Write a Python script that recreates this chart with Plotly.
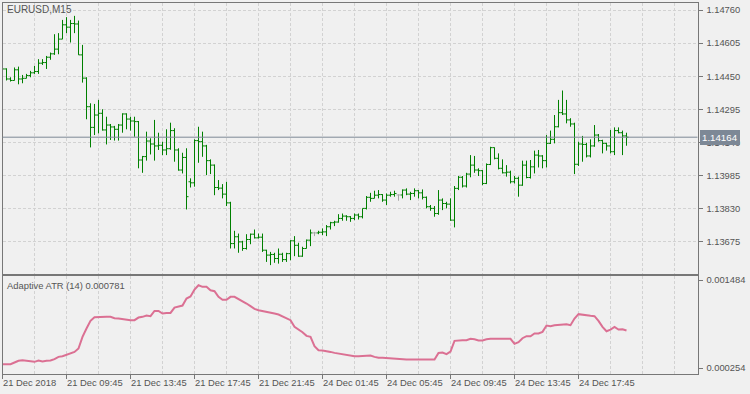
import numpy as np
import plotly.graph_objects as go

# ---------------- data (EURUSD M15, bars from 21 Dec 2018 05:45) ----------------
opens = [1.14480, 1.14484, 1.14437, 1.14430, 1.14480, 1.14437, 1.14440, 1.14453, 1.14466, 1.14472,
         1.14511, 1.14514, 1.14539, 1.14555, 1.14577, 1.14624, 1.14691, 1.14680, 1.14697, 1.14695,
         1.14550, 1.14441, 1.14307, 1.14210, 1.14268, 1.14276, 1.14198, 1.14221, 1.14212, 1.14201,
         1.14221, 1.14273, 1.14249, 1.14240, 1.14237, 1.14057, 1.14073, 1.14146, 1.14132, 1.14123,
         1.14126, 1.14104, 1.14110, 1.14195, 1.14104, 1.14010, 1.14069, 1.13955, 1.13950, 1.14148,
         1.14143, 1.14123, 1.14054, 1.14033, 1.13928, 1.13925, 1.13897, 1.13856, 1.13665, 1.13697,
         1.13673, 1.13642, 1.13684, 1.13709, 1.13692, 1.13695, 1.13634, 1.13611, 1.13614, 1.13595,
         1.13615, 1.13590, 1.13618, 1.13678, 1.13657, 1.13606, 1.13642, 1.13681, 1.13715, 1.13715,
         1.13718, 1.13720, 1.13744, 1.13763, 1.13766, 1.13783, 1.13794, 1.13791, 1.13783, 1.13799,
         1.13791, 1.13830, 1.13882, 1.13877, 1.13892, 1.13895, 1.13869, 1.13892, 1.13895, 1.13893,
         1.13893, 1.13916, 1.13897, 1.13900, 1.13913, 1.13903, 1.13882, 1.13838, 1.13830, 1.13806,
         1.13869, 1.13853, 1.13850, 1.13775, 1.13924, 1.13976, 1.13935, 1.13991, 1.14033, 1.14010,
         1.14007, 1.13947, 1.14036, 1.14115, 1.14065, 1.14018, 1.13997, 1.14000, 1.13955, 1.13971,
         1.13939, 1.14033, 1.13975, 1.14025, 1.14080, 1.14076, 1.14054, 1.14135, 1.14154, 1.14213,
         1.14279, 1.14273, 1.14245, 1.14226, 1.14037, 1.14132, 1.14130, 1.14076, 1.14123, 1.14174,
         1.14148, 1.14135, 1.14123, 1.14096, 1.14195, 1.14185, 1.14170]
highs = [1.14495, 1.14487, 1.14445, 1.14491, 1.14495, 1.14456, 1.14461, 1.14475, 1.14498, 1.14530,
         1.14530, 1.14545, 1.14561, 1.14647, 1.14652, 1.14714, 1.14727, 1.14714, 1.14733, 1.14711,
         1.14597, 1.14445, 1.14323, 1.14320, 1.14339, 1.14295, 1.14260, 1.14226, 1.14217, 1.14226,
         1.14276, 1.14276, 1.14260, 1.14260, 1.14240, 1.14076, 1.14190, 1.14159, 1.14245, 1.14185,
         1.14143, 1.14201, 1.14232, 1.14206, 1.14112, 1.14091, 1.14112, 1.13971, 1.14154, 1.14213,
         1.14190, 1.14128, 1.14060, 1.14036, 1.13963, 1.13944, 1.13955, 1.13861, 1.13725, 1.13712,
         1.13678, 1.13709, 1.13712, 1.13731, 1.13712, 1.13712, 1.13636, 1.13626, 1.13622, 1.13642,
         1.13622, 1.13622, 1.13681, 1.13700, 1.13669, 1.13650, 1.13684, 1.13731, 1.13720, 1.13725,
         1.13736, 1.13752, 1.13767, 1.13772, 1.13803, 1.13806, 1.13798, 1.13794, 1.13806, 1.13806,
         1.13830, 1.13888, 1.13903, 1.13913, 1.13916, 1.13897, 1.13900, 1.13908, 1.13913, 1.13896,
         1.13919, 1.13924, 1.13908, 1.13924, 1.13916, 1.13919, 1.13886, 1.13846, 1.13841, 1.13916,
         1.13877, 1.13861, 1.13877, 1.13935, 1.13982, 1.13982, 1.13997, 1.14080, 1.14076, 1.14018,
         1.14010, 1.14041, 1.14119, 1.14116, 1.14088, 1.14060, 1.14033, 1.14007, 1.13982, 1.13979,
         1.14054, 1.14054, 1.14057, 1.14101, 1.14104, 1.14080, 1.14174, 1.14195, 1.14268, 1.14339,
         1.14383, 1.14339, 1.14253, 1.14232, 1.14143, 1.14170, 1.14138, 1.14154, 1.14221, 1.14179,
         1.14152, 1.14138, 1.14198, 1.14210, 1.14210, 1.14195, 1.14185]
lows = [1.14470, 1.14430, 1.14425, 1.14430, 1.14412, 1.14417, 1.14440, 1.14445, 1.14461, 1.14461,
        1.14503, 1.14484, 1.14527, 1.14550, 1.14553, 1.14624, 1.14652, 1.14608, 1.14652, 1.14550,
        1.14420, 1.14248, 1.14116, 1.14174, 1.14182, 1.14195, 1.14130, 1.14151, 1.14148, 1.14148,
        1.14185, 1.14201, 1.14195, 1.14166, 1.14018, 1.13997, 1.14054, 1.14083, 1.14054, 1.14104,
        1.14080, 1.14080, 1.14105, 1.14049, 1.14007, 1.13994, 1.13825, 1.13928, 1.13932, 1.14044,
        1.14072, 1.13986, 1.13991, 1.13892, 1.13916, 1.13877, 1.13841, 1.13642, 1.13642, 1.13622,
        1.13631, 1.13637, 1.13662, 1.13689, 1.13689, 1.13626, 1.13579, 1.13564, 1.13575, 1.13571,
        1.13579, 1.13579, 1.13587, 1.13606, 1.13603, 1.13603, 1.13642, 1.13653, 1.13700, 1.13709,
        1.13705, 1.13700, 1.13731, 1.13747, 1.13763, 1.13772, 1.13772, 1.13767, 1.13775, 1.13778,
        1.13783, 1.13825, 1.13861, 1.13877, 1.13877, 1.13861, 1.13846, 1.13885, 1.13885, 1.13866,
        1.13877, 1.13892, 1.13869, 1.13885, 1.13877, 1.13872, 1.13830, 1.13819, 1.13791, 1.13800,
        1.13822, 1.13830, 1.13772, 1.13741, 1.13916, 1.13928, 1.13928, 1.13976, 1.13997, 1.13982,
        1.13939, 1.13944, 1.14033, 1.14060, 1.14013, 1.13994, 1.13979, 1.13947, 1.13947, 1.13885,
        1.13936, 1.13971, 1.13970, 1.13994, 1.14022, 1.14018, 1.14022, 1.14132, 1.14135, 1.14210,
        1.14268, 1.14229, 1.14213, 1.13991, 1.14029, 1.14049, 1.14069, 1.14069, 1.14119, 1.14143,
        1.14088, 1.14101, 1.14088, 1.14080, 1.14182, 1.14080, 1.14124]
closes = [1.14484, 1.14437, 1.14430, 1.14480, 1.14437, 1.14440, 1.14453, 1.14466, 1.14472, 1.14511,
          1.14514, 1.14539, 1.14555, 1.14577, 1.14624, 1.14691, 1.14680, 1.14697, 1.14695, 1.14550,
          1.14441, 1.14307, 1.14210, 1.14268, 1.14276, 1.14198, 1.14221, 1.14212, 1.14201, 1.14221,
          1.14273, 1.14249, 1.14240, 1.14237, 1.14057, 1.14073, 1.14146, 1.14132, 1.14123, 1.14126,
          1.14104, 1.14110, 1.14195, 1.14104, 1.14010, 1.14069, 1.13885, 1.13950, 1.14148, 1.14143,
          1.14123, 1.14054, 1.14033, 1.13928, 1.13925, 1.13897, 1.13856, 1.13665, 1.13697, 1.13673,
          1.13642, 1.13684, 1.13709, 1.13692, 1.13695, 1.13634, 1.13611, 1.13614, 1.13595, 1.13615,
          1.13590, 1.13618, 1.13678, 1.13657, 1.13606, 1.13642, 1.13681, 1.13715, 1.13715, 1.13718,
          1.13720, 1.13744, 1.13763, 1.13766, 1.13783, 1.13794, 1.13791, 1.13783, 1.13799, 1.13791,
          1.13830, 1.13882, 1.13877, 1.13892, 1.13895, 1.13869, 1.13892, 1.13895, 1.13900, 1.13893,
          1.13916, 1.13897, 1.13900, 1.13913, 1.13903, 1.13882, 1.13838, 1.13830, 1.13806, 1.13869,
          1.13853, 1.13850, 1.13775, 1.13924, 1.13976, 1.13935, 1.13991, 1.14033, 1.14010, 1.14007,
          1.13947, 1.14036, 1.14115, 1.14065, 1.14018, 1.13997, 1.14000, 1.13955, 1.13971, 1.13939,
          1.14033, 1.13975, 1.14025, 1.14080, 1.14076, 1.14054, 1.14135, 1.14154, 1.14213, 1.14279,
          1.14273, 1.14245, 1.14226, 1.14037, 1.14132, 1.14130, 1.14076, 1.14123, 1.14174, 1.14148,
          1.14135, 1.14123, 1.14096, 1.14195, 1.14185, 1.14170, 1.14164]
atr = [0.000310, 0.000310, 0.000310, 0.000333, 0.000357, 0.000366, 0.000357, 0.000347, 0.000343, 0.000361,
       0.000347, 0.000357, 0.000361, 0.000380, 0.000412, 0.000422, 0.000440, 0.000468, 0.000482, 0.000529,
       0.000692, 0.000809, 0.000916, 0.000967, 0.000972, 0.000972, 0.000972, 0.000972, 0.000953, 0.000948,
       0.000939, 0.000925, 0.000925, 0.000925, 0.000962, 0.000972, 0.000990, 0.000981, 0.001055, 0.001055,
       0.001018, 0.001027, 0.001027, 0.001102, 0.001121, 0.001130, 0.001228, 0.001256, 0.001354, 0.001414,
       0.001391, 0.001391, 0.001344, 0.001330, 0.001251, 0.001209, 0.001209, 0.001251, 0.001251, 0.001223,
       0.001190, 0.001158, 0.001121, 0.001083, 0.001065, 0.001055, 0.001041, 0.001027, 0.001018, 0.001004,
       0.000981, 0.000953, 0.000925, 0.000832, 0.000799, 0.000757, 0.000706, 0.000692, 0.000562, 0.000506,
       0.000501, 0.000496, 0.000482, 0.000468, 0.000459, 0.000450, 0.000436, 0.000426, 0.000422, 0.000422,
       0.000422, 0.000422, 0.000431, 0.000412, 0.000399, 0.000399, 0.000394, 0.000389, 0.000385, 0.000375,
       0.000375, 0.000375, 0.000375, 0.000375, 0.000375, 0.000375, 0.000375, 0.000375, 0.000375, 0.000468,
       0.000473, 0.000450, 0.000487, 0.000636, 0.000645, 0.000645, 0.000645, 0.000664, 0.000659, 0.000641,
       0.000641, 0.000659, 0.000664, 0.000664, 0.000664, 0.000664, 0.000664, 0.000664, 0.000594, 0.000617,
       0.000673, 0.000701, 0.000701, 0.000739, 0.000739, 0.000762, 0.000850, 0.000841, 0.000855, 0.000860,
       0.000869, 0.000869, 0.000855, 0.000948, 0.001009, 0.000999, 0.000990, 0.000986, 0.000981, 0.000916,
       0.000832, 0.000771, 0.000794, 0.000832, 0.000794, 0.000799, 0.000781]

price_ticks = [1.14760, 1.14605, 1.14450, 1.14295, 1.14140, 1.13985, 1.13830, 1.13675]
atr_ticks = [0.001484, 0.000254]
time_tick_bars = [0, 16, 32, 48, 64, 80, 96, 112, 128, 144]
time_tick_labels = ["21 Dec 2018", "21 Dec 09:45", "21 Dec 13:45", "21 Dec 17:45", "21 Dec 21:45",
                    "24 Dec 01:45", "24 Dec 05:45", "24 Dec 09:45", "24 Dec 13:45", "24 Dec 17:45"]
symbol_label = "EURUSD,M15"
indicator_label = "Adaptive ATR (14)"

# ---------------- layout geometry (pixels) ----------------
W, H = 750, 394
PL, PR = 2.5, 697.5          # plot left/right
MT, MB = 2.5, 273.5          # main panel top/bottom
ST, SB = 275.5, 373.5        # sub panel top/bottom


def fx(p):
    return p / W


def fy(p):
    return 1 - p / H


BG = "#f0f0f0"
FRAME = "#777777"
GRID = "#d2d2d2"
TXT = "#555555"
FONT = "Liberation Sans, Arial, sans-serif"
FS = 9.4
BAR_GREEN = "#008000"
DOJI_GRAY = "#a8a8a8"
ATR_COLOR = "#DB7093"
PRICE_LINE = "#7d8896"

bars = np.arange(len(opens))
o = np.array(opens)
h = np.array(highs)
l = np.array(lows)
c = np.array(closes)
doji = o == c
norm = ~doji

fig = go.Figure()
fig.add_trace(go.Ohlc(x=bars[norm], open=o[norm], high=h[norm], low=l[norm], close=c[norm],
                      increasing=dict(line=dict(color=BAR_GREEN, width=1)),
                      decreasing=dict(line=dict(color=BAR_GREEN, width=1)),
                      tickwidth=0.5, xaxis="x", yaxis="y", hoverinfo="skip", showlegend=False))
fig.add_trace(go.Ohlc(x=bars[doji], open=o[doji], high=h[doji], low=l[doji], close=c[doji],
                      increasing=dict(line=dict(color=DOJI_GRAY, width=1)),
                      decreasing=dict(line=dict(color=DOJI_GRAY, width=1)),
                      tickwidth=0.5, xaxis="x", yaxis="y", hoverinfo="skip", showlegend=False))
fig.add_trace(go.Scatter(x=bars, y=atr, mode="lines", line=dict(color=ATR_COLOR, width=2),
                         xaxis="x2", yaxis="y2", hoverinfo="skip", showlegend=False))

xrange = [0, 173.75]
grid_common = dict(showgrid=True, gridcolor=GRID, gridwidth=1, griddash="3px,2px")

fig.update_layout(
    width=W, height=H, margin=dict(l=0, r=0, t=0, b=0),
    paper_bgcolor=BG, plot_bgcolor=BG, showlegend=False,
    font=dict(family=FONT, size=FS, color=TXT),
    xaxis=dict(domain=[fx(PL), fx(PR)], anchor="y", range=xrange, tickmode="linear", tick0=0, dtick=8,
               showticklabels=False, ticks="", zeroline=False, showline=True, mirror=True,
               linecolor=FRAME, linewidth=1, rangeslider=dict(visible=False), fixedrange=True,
               **grid_common),
    xaxis2=dict(domain=[fx(PL), fx(PR)], anchor="y2", range=xrange, matches="x",
                tickmode="array", tickvals=time_tick_bars, ticktext=time_tick_labels,
                showticklabels=False, ticks="outside", ticklen=4, tickcolor=FRAME, tickwidth=1,
                zeroline=False, showline=True, mirror=True, linecolor=FRAME, linewidth=1,
                minor=dict(tickmode="linear", tick0=0, dtick=8, ticks="", showgrid=True,
                           gridcolor=GRID, gridwidth=1, griddash="3px,2px"),
                **grid_common),
    yaxis=dict(domain=[fy(MB), fy(MT)], anchor="x", side="right", range=[1.135247, 1.147957],
               tickmode="array", tickvals=price_ticks, ticktext=[f"{v:.5f}" for v in price_ticks],
               ticks="outside", ticklen=4, tickcolor=FRAME, tickwidth=1, ticklabelstandoff=2,
               zeroline=False, showline=True, mirror=True, linecolor=FRAME, linewidth=1,
               automargin=False, fixedrange=True, **grid_common),
    yaxis2=dict(domain=[fy(SB), fy(ST)], anchor="x2", side="right", range=[0.0001799, 0.0015497],
                tickmode="array", tickvals=atr_ticks, ticktext=[f"{v:.6f}" for v in atr_ticks],
                ticks="outside", ticklen=4, tickcolor=FRAME, tickwidth=1, ticklabelstandoff=2,
                zeroline=False, showline=True, mirror=True, linecolor=FRAME, linewidth=1,
                showgrid=False, automargin=False, fixedrange=True),
)

# current price line and its label
last_close = closes[-1]
fig.add_shape(type="line", xref="x domain", yref="y", x0=0, x1=1, y0=last_close, y1=last_close,
              line=dict(color=PRICE_LINE, width=1), layer="above")

annotations = [
    dict(text=symbol_label, xref="paper", yref="paper", x=fx(4.5), y=fy(9.8), xanchor="left",
         yanchor="middle", showarrow=False, font=dict(family=FONT, size=FS + 0.6, color=TXT)),
    dict(text=f"{indicator_label} {atr[-1]:.6f}", xref="paper", yref="paper", x=fx(4.5), y=fy(285.0),
         xanchor="left", yanchor="middle", showarrow=False, font=dict(family=FONT, size=FS, color=TXT)),
    dict(text=f"{last_close:.5f}", xref="paper", yref="y", x=fx(699.5), y=last_close, xanchor="left",
         yanchor="middle", showarrow=False, bgcolor=PRICE_LINE, borderpad=2, borderwidth=0,
         font=dict(family=FONT, size=FS + 0.3, color="#ffffff")),
]
for b, lab in zip(time_tick_bars, time_tick_labels):
    annotations.append(dict(text=lab, xref="x2", yref="paper", x=b, y=fy(382.5), xanchor="left",
                            yanchor="middle", showarrow=False, xshift=-2,
                            font=dict(family=FONT, size=FS, color=TXT)))
fig.update_layout(annotations=annotations)

fig.write_html("out.html", config=dict(displayModeBar=False))
